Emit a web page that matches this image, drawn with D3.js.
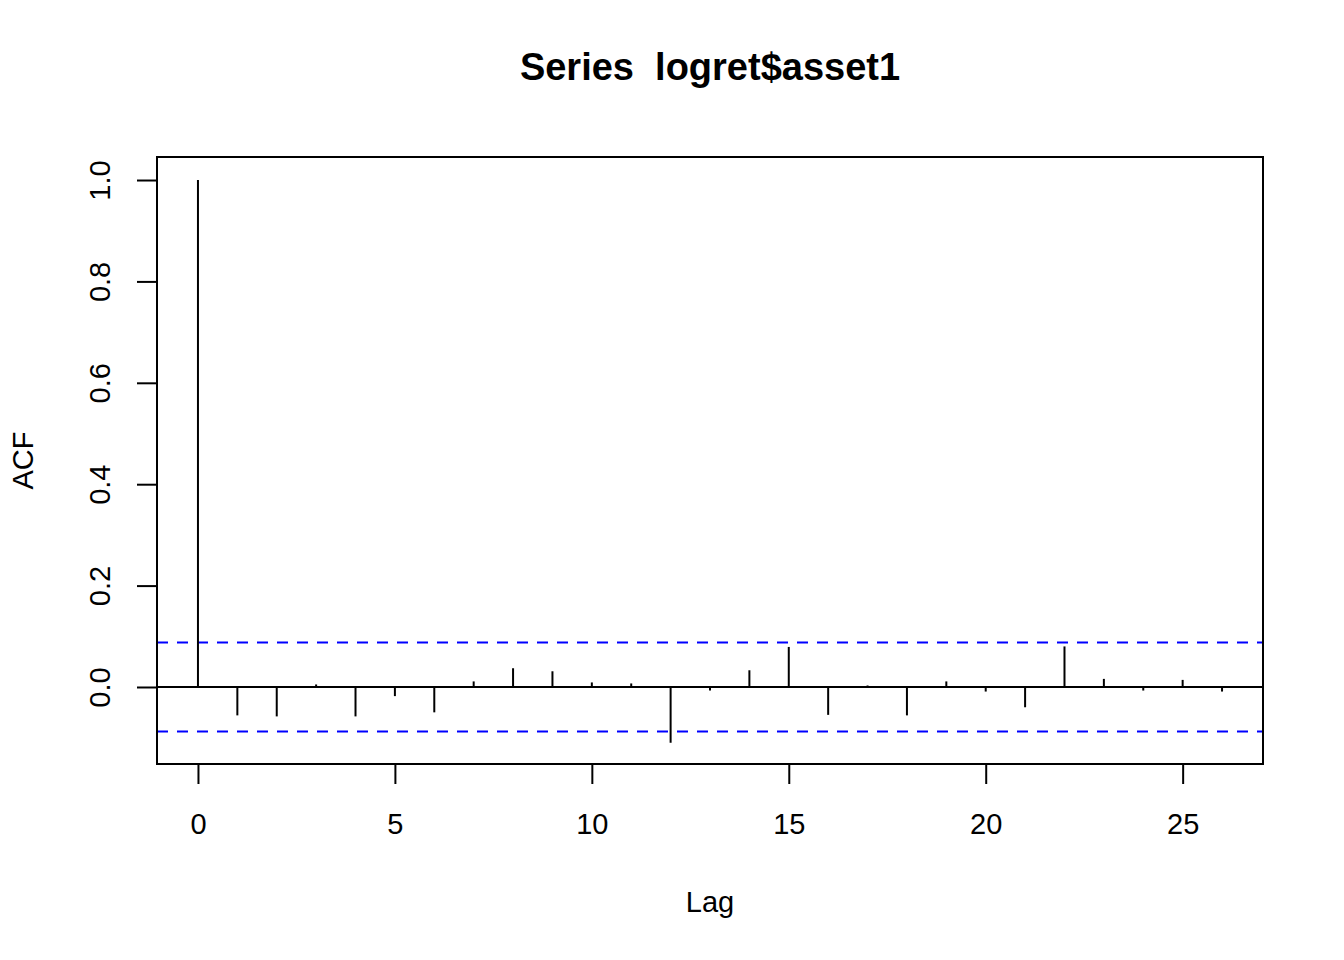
<!DOCTYPE html>
<html>
<head>
<meta charset="utf-8">
<script src="https://cdn.jsdelivr.net/npm/d3@7"></script>
<style>
  html, body { margin: 0; padding: 0; background: #fff; }
  svg text { font-family: "Liberation Sans", Arial, Helvetica, sans-serif; fill: #000; }
</style>
</head>
<body>
<div id="chart"></div>
<script>
// ACF values, lag 0..26
const lags = d3.range(0, 27);
const acfValues = [
  1.000, -0.056, -0.058, 0.005, -0.058, -0.018, -0.050, 0.011, 0.037, 0.031,
  0.009, 0.007, -0.110, -0.007, 0.033, 0.079, -0.055, 0.003, -0.056, 0.011,
  -0.009, -0.040, 0.080, 0.016, -0.007, 0.014, -0.009
];
const confLimit = 0.0876;
const xTicks = [0, 5, 10, 15, 20, 25];
const yTicks = [0.0, 0.2, 0.4, 0.6, 0.8, 1.0];
const titleText = 'Series  logret$asset1';

const W = 1344, H = 960;
const box = { left: 157, right: 1263, top: 157, bottom: 764 };

const svg = d3.select('#chart').append('svg')
  .attr('width', W).attr('height', H);

// R pads the data range by 4% on each side
const x = d3.scaleLinear().domain([-1.04, 27.04]).range([box.left, box.right]);
const y = d3.scaleLinear().domain([-0.1519, 1.0454]).range([box.bottom, box.top]);

const plot = svg.append('g');

// confidence limits
[confLimit, -confLimit].forEach(v => {
  plot.append('line')
    .attr('x1', box.left).attr('x2', box.right)
    .attr('y1', y(v)).attr('y2', y(v))
    .attr('stroke', '#0000ff').attr('stroke-width', 2)
    .attr('stroke-dasharray', '11,9');
});

// zero line
plot.append('line')
  .attr('x1', box.left).attr('x2', box.right)
  .attr('y1', y(0)).attr('y2', y(0))
  .attr('stroke', '#000').attr('stroke-width', 2);

// spikes
plot.selectAll('line.spike')
  .data(lags)
  .enter().append('line')
  .attr('class', 'spike')
  .attr('x1', d => x(d)).attr('x2', d => x(d))
  .attr('y1', y(0)).attr('y2', d => y(acfValues[d]))
  .attr('stroke', '#000').attr('stroke-width', 2);

// box
svg.append('rect')
  .attr('x', box.left).attr('y', box.top)
  .attr('width', box.right - box.left).attr('height', box.bottom - box.top)
  .attr('fill', 'none').attr('stroke', '#000').attr('stroke-width', 2);

// x axis
const xAxis = svg.append('g')
  .attr('transform', `translate(0,${box.bottom})`)
  .call(d3.axisBottom(x).tickValues(xTicks).tickSize(20).tickSizeOuter(0).tickPadding(0));
xAxis.select('.domain').remove();
xAxis.selectAll('.tick line').attr('stroke', '#000').attr('stroke-width', 2);
xAxis.selectAll('.tick text')
  .attr('y', 70).attr('dy', null)
  .style('font-size', '29px');

// y axis
const yAxis = svg.append('g')
  .attr('transform', `translate(${box.left},0)`)
  .call(d3.axisLeft(y).tickValues(yTicks).tickSize(20).tickSizeOuter(0).tickFormat(d3.format('.1f')));
yAxis.select('.domain').remove();
yAxis.selectAll('.tick line').attr('stroke', '#000').attr('stroke-width', 2);
yAxis.selectAll('.tick text')
  .attr('x', null).attr('dy', null)
  .attr('text-anchor', 'middle')
  .attr('transform', `translate(${110 - box.left},0) rotate(-90)`)
  .style('font-size', '29px');

// titles
svg.append('text')
  .attr('x', (box.left + box.right) / 2).attr('y', 80)
  .attr('text-anchor', 'middle')
  .style('font-size', '38px').style('font-weight', 'bold')
  .style('white-space', 'pre')
  .text(titleText);

svg.append('text')
  .attr('x', (box.left + box.right) / 2).attr('y', 912)
  .attr('text-anchor', 'middle')
  .style('font-size', '29px')
  .text('Lag');

svg.append('text')
  .attr('transform', `translate(33,${(box.top + box.bottom) / 2}) rotate(-90)`)
  .attr('text-anchor', 'middle')
  .style('font-size', '29px')
  .text('ACF');
</script>
</body>
</html>
